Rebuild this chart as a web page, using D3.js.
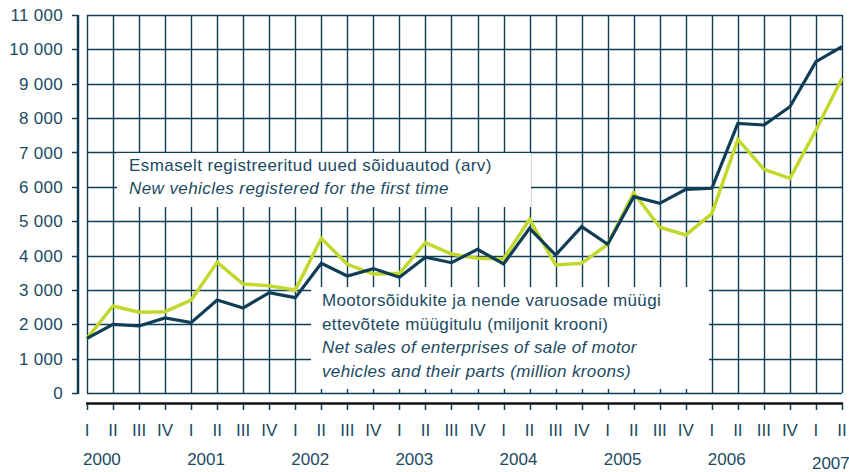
<!DOCTYPE html>
<html><head><meta charset="utf-8">
<script src="https://cdn.jsdelivr.net/npm/d3@7"></script>
<style>
html,body{margin:0;padding:0;background:#fff;}
svg{display:block;font-family:"Liberation Sans",Arial,sans-serif;}
</style></head>
<body>
<svg id="c" width="849" height="472"></svg>
<script>
const quarters = ["I","II","III","IV","I","II","III","IV","I","II","III","IV","I","II","III","IV","I","II","III","IV","I","II","III","IV","I","II","III","IV","I","II"];
const years = ["2000","2001","2002","2003","2004","2005","2006","2007"];
const yTicks = [0,1000,2000,3000,4000,5000,6000,7000,8000,9000,10000,11000];
const yTickLabels = ["0","1 000","2 000","3 000","4 000","5 000","6 000","7 000","8 000","9 000","10 000","11 000"];
const darkSeries = [1590,1995,1950,2183,2047,2706,2474,2920,2775,3773,3404,3620,3367,3949,3792,4181,3754,4792,4016,4840,4327,5713,5520,5928,5957,7848,7799,8331,9641,10077];
const greenSeries = [1590,2532,2348,2366,2706,3803,3172,3123,2997,4500,3744,3460,3483,4374,4045,3920,3899,5054,3725,3773,4327,5829,4822,4598,5220,7382,6510,6248,7653,9158];
const legend1 = ["Esmaselt registreeritud uued sõiduautod (arv)","New vehicles registered for the first time"];
const legend2 = ["Mootorsõidukite ja nende varuosade müügi","ettevõtete müügitulu (miljonit krooni)","Net sales of enterprises of sale of motor","vehicles and their parts (million kroons)"];

const navy = "#0f3d55", textC = "#1b4a62", green = "#c3d82c";
const svg = d3.select("#c");
const x = d3.scaleLinear().domain([0, quarters.length-1]).range([87, 842]);
const y = d3.scaleLinear().domain([0, 11000]).range([393, 15]);
const idx = d3.range(quarters.length);

// grid
const g = svg.append("g");
g.selectAll(".hg").data(yTicks).join("line")
  .attr("x1", x(0)).attr("x2", x(quarters.length-1))
  .attr("y1", d => Math.round(y(d))+0.5).attr("y2", d => Math.round(y(d))+0.5)
  .attr("stroke", navy).attr("stroke-width", 1.4);
g.selectAll(".vg").data(idx).join("line")
  .attr("x1", d => Math.round(x(d))+0.5).attr("x2", d => Math.round(x(d))+0.5)
  .attr("y1", y(11000)).attr("y2", y(0))
  .attr("stroke", navy).attr("stroke-width", 1.4);

// y axis
svg.append("line").attr("x1",78).attr("x2",78).attr("y1",y(11000)).attr("y2",y(0)+1)
  .attr("stroke",navy).attr("stroke-width",2.5);
svg.selectAll(".yt").data(yTicks).join("line")
  .attr("x1",72).attr("x2",78).attr("y1",d=>Math.round(y(d))+0.5).attr("y2",d=>Math.round(y(d))+0.5)
  .attr("stroke",navy).attr("stroke-width",1.5);
svg.selectAll(".yl").data(yTicks).join("text")
  .attr("x",63).attr("y",d=>y(d)).attr("dy","0.36em").attr("text-anchor","end")
  .attr("font-size",17).attr("letter-spacing",0.3).attr("fill",textC).text((d,i)=>yTickLabels[i]);

// x axis
svg.append("line").attr("x1",86).attr("x2",843).attr("y1",403.5).attr("y2",403.5)
  .attr("stroke","#111").attr("stroke-width",2.5);
svg.selectAll(".xt").data(idx).join("line")
  .attr("x1",d=>Math.round(x(d))+0.5).attr("x2",d=>Math.round(x(d))+0.5)
  .attr("y1",404).attr("y2",410).attr("stroke",navy).attr("stroke-width",1.5);
svg.selectAll(".xl").data(idx).join("text")
  .attr("x",d=>x(d)).attr("y",436).attr("text-anchor","middle")
  .attr("font-size",17).attr("fill",textC).text(d=>quarters[d]);
svg.selectAll(".yr").data(years).join("text")
  .attr("x",(d,i)=>x(i*4)-4).attr("y",(d,i)=>i===years.length-1?469:465)
  .attr("font-size",17).attr("fill",textC).text(d=>d);

// legend boxes
svg.append("rect").attr("x",117).attr("y",153).attr("width",414).attr("height",54).attr("fill","#fff");
svg.append("rect").attr("x",311).attr("y",287).attr("width",398).attr("height",102).attr("fill","#fff");

// lines
const line = d3.line().x((d,i)=>x(i)).y(d=>y(d));
svg.append("path").datum(greenSeries).attr("d",line).attr("fill","none")
  .attr("stroke",green).attr("stroke-width",3.5).attr("stroke-linejoin","miter");
svg.append("path").datum(darkSeries).attr("d",line).attr("fill","none")
  .attr("stroke",navy).attr("stroke-width",3.2).attr("stroke-linejoin","miter");

// legend text
svg.selectAll(".l1").data(legend1).join("text")
  .attr("x",129).attr("y",(d,i)=>171+i*23).attr("font-size",17).attr("letter-spacing",0.42).attr("fill",textC)
  .attr("font-style",(d,i)=>i===1?"italic":"normal").text(d=>d);
svg.selectAll(".l2").data(legend2).join("text")
  .attr("x",322).attr("y",(d,i)=>306+i*23.7).attr("font-size",17).attr("letter-spacing",0.35).attr("fill",textC)
  .attr("font-style",(d,i)=>i>=2?"italic":"normal").text(d=>d);
</script>
</body></html>
